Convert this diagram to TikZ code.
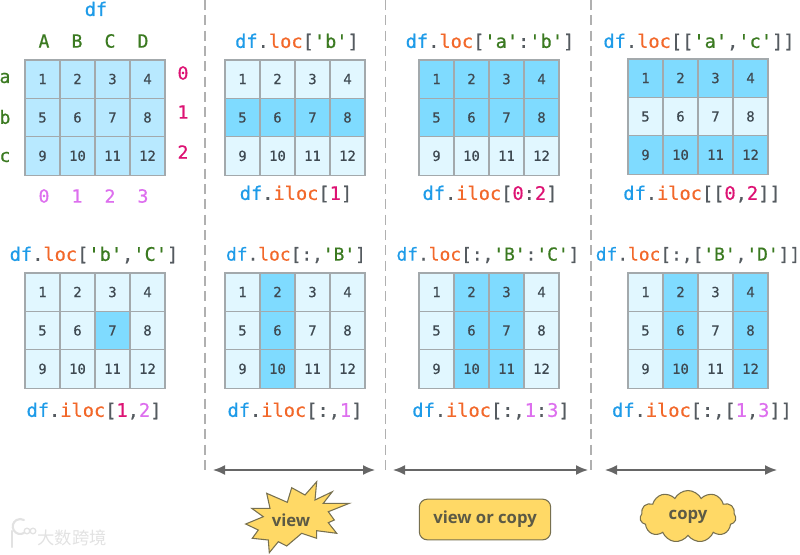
\documentclass[tikz,border=0pt]{standalone}
\usepackage{fontspec}
\usetikzlibrary{shapes.symbols,arrows.meta}
\newfontfamily\codefont[FakeBold=0.6]{DejaVu Sans Mono}
\newfontfamily\labelfont{Open Sans}
\newfontfamily\cjkfont{Noto Sans CJK SC}
\definecolor{cbase}{HTML}{B8E9FF}
\definecolor{clight}{HTML}{E1F7FF}
\definecolor{chigh}{HTML}{7FDBFF}
\definecolor{cline}{HTML}{A3A9AC}
\definecolor{cdf}{HTML}{1E9BE8}
\definecolor{cloc}{HTML}{F2682A}
\definecolor{cstr}{HTML}{3B7A21}
\definecolor{crow}{HTML}{DD1273}
\definecolor{ccol}{HTML}{DD6FEE}
\definecolor{cgray}{HTML}{555B60}
\definecolor{cnum}{HTML}{3F4A52}
\definecolor{cgold}{HTML}{FFD966}
\definecolor{cgoldline}{HTML}{77704F}
\definecolor{cgoldtext}{HTML}{5C5A45}
\definecolor{cdash}{HTML}{B0B0B0}
\definecolor{carrow}{HTML}{666666}
\definecolor{cwm}{HTML}{E2E2E2}
\newcommand{\Df}{{\color{cdf}df}}
\newcommand{\Lc}[1]{{\color{cloc}#1}}
\newcommand{\St}[1]{{\color{cstr}#1}}
\newcommand{\Rw}[1]{{\color{crow}#1}}
\newcommand{\Cl}[1]{{\color{ccol}#1}}
\tikzset{
  cellbox/.style={draw=cline,line width=1pt,inner sep=0pt,minimum width=26.2pt,minimum height=28.8pt,
    text=cnum,text height=7.3pt,text depth=0pt,font=\codefont\fontsize{10.4}{10.4}\selectfont},
  codelabel/.style={inner sep=0pt,text=cgray,yshift=-0.75pt,font=\codefont\fontsize{14}{14}\selectfont},
  tightlabel/.style={codelabel,font=\codefont\fontsize{13.4}{14}\selectfont},
  axislabel/.style={inner sep=0pt,font=\codefont\fontsize{13.6}{13.6}\selectfont},
  dashline/.style={draw=cdash,line width=1pt,dash pattern=on 7.5pt off 4pt},
  widearrow/.style={draw=carrow,line width=1.2pt,{Latex[length=9pt,width=7.5pt]}-{Latex[length=9pt,width=7.5pt]}},
  tagtext/.style={text=cgoldtext,font=\labelfont\bfseries\fontsize{12.5}{13}\selectfont},
  taggold/.style={fill=cgold,draw=cgoldline,line width=.8pt},
}
\makeatletter
\newcommand{\tbl}[5]{%
  \foreach \r in {0,1,2}{\foreach \c in {0,1,2,3}{%
    \pgfmathtruncatemacro{\n}{\r*4+\c+1}%
    \edef\cellcheck{\noexpand\in@{,\n,}{,#5,}}\cellcheck
    \ifin@\def\cellfill{chigh}\else\def\cellfill{#4}\fi
    \node[cellbox,fill=\cellfill] (#1-\n) at ({#2+17.5+35*\c},{#3+19.2+38.4*\r}) {\n};
  }}}
\makeatother
\begin{document}
\begin{tikzpicture}[x=0.75pt,y=-0.75pt]
\useasboundingbox (0,0) rectangle (800,554);
% grids
\tbl{ga}{25}{60}{cbase}{0}
\tbl{gb}{225}{60}{clight}{5,6,7,8}
\tbl{gc}{419}{60}{clight}{1,2,3,4,5,6,7,8}
\tbl{gd}{628}{59}{clight}{1,2,3,4,9,10,11,12}
\tbl{ge}{25}{273}{clight}{7}
\tbl{gf}{225}{273}{clight}{2,6,10}
\tbl{gg}{419}{273}{clight}{2,3,6,7,10,11}
\tbl{gh}{628}{273}{clight}{2,4,6,8,10,12}
% axis labels of the first table
\node[codelabel] (title) at (96,8) {\Df};
\foreach \t/\x in {A/44,B/77,C/110,D/143}
  \node[axislabel,text=cstr] (top\t) at (\x,41) {\t};
\foreach \t/\x in {0/44,1/77,2/110,3/143}
  \node[axislabel,text=ccol] (bot\t) at (\x,196) {\t};
\foreach \t/\y in {a/78,b/117,c/157}
  \node[axislabel,text=cstr] (left\t) at (5,\y) {\t};
\foreach \t/\y in {0/73,1/112,2/152}
  \node[axislabel,text=crow] (right\t) at (183,\y) {\t};
% code labels
\node[codelabel] (t1) at (297,41) {\Df.\Lc{loc}[\St{'b'}]};
\node[codelabel] (t2) at (490,41) {\Df.\Lc{loc}[\St{'a'}:\St{'b'}]};
\node[codelabel] (t3) at (699,41) {\Df.\Lc{loc}[[\St{'a'},\St{'c'}]]};
\node[codelabel] (u1) at (296,193) {\Df.\Lc{iloc}[\Rw{1}]};
\node[codelabel] (u2) at (490,193) {\Df.\Lc{iloc}[\Rw{0}:\Rw{2}]};
\node[codelabel] (u3) at (702,193) {\Df.\Lc{iloc}[[\Rw{0},\Rw{2}]]};
\node[codelabel] (v0) at (94,254) {\Df.\Lc{loc}[\St{'b'},\St{'C'}]};
\node[tightlabel] (v1) at (296,254) {\Df.\Lc{loc}[:,\St{'B'}]};
\node[tightlabel] (v2) at (488,254) {\Df.\Lc{loc}[:,\St{'B'}:\St{'C'}]};
\node[tightlabel] (v3) at (698,254) {\Df.\Lc{loc}[:,[\St{'B'},\St{'D'}]]};
\node[codelabel] (w0) at (94,410) {\Df.\Lc{iloc}[\Rw{1},\Cl{2}]};
\node[codelabel] (w1) at (295,410) {\Df.\Lc{iloc}[:,\Cl{1}]};
\node[codelabel] (w2) at (491,410) {\Df.\Lc{iloc}[:,\Cl{1}:\Cl{3}]};
\node[codelabel] (w3) at (702,410) {\Df.\Lc{iloc}[:,[\Cl{1},\Cl{3}]]};
% separators
\foreach \i/\x in {1/205,2/385.5,3/591}{
  \coordinate (sep\i a) at (\x,0);
  \coordinate (sep\i b) at (\x,471);
  \draw[dashline] (sep\i a) -- (sep\i b);
}
% arrows
\coordinate (ar1a) at (213,470); \coordinate (ar1b) at (375,470);
\coordinate (ar2a) at (393,470); \coordinate (ar2b) at (588,470);
\coordinate (ar3a) at (605,470); \coordinate (ar3b) at (777,470);
\draw[widearrow] (ar1a) -- (ar1b);
\draw[widearrow] (ar2a) -- (ar2b);
\draw[widearrow] (ar3a) -- (ar3b);
% star
\draw[taggold,line join=miter] (316.7,481.7) -- (315,500) -- (332.3,491.7) -- (323.3,503.3) -- (349.3,503.3) -- (328.3,511.7) -- (334.3,520) -- (328.3,522.7) -- (336.7,533.3) -- (316.7,530.7) -- (316.7,538.3) -- (301.7,533.3) -- (286.7,546) -- (278.3,541.7) -- (269.3,552.7) -- (268.3,540) -- (252.3,538.3) -- (258.3,530) -- (245.7,524) -- (263.3,516.7) -- (251.7,508.3) -- (270,508.3) -- (266.7,493.3) -- (287.3,502.3) -- (291.7,487.7) -- (305,495) -- cycle;
\node[tagtext] (view) at (291,520) {view};
% rounded box
\node[taggold,tagtext,rounded corners=6pt,minimum width=98.5pt,minimum height=30.5pt,inner sep=0pt] (voc) at (485,519.5) {view or copy};
% cloud
\node[cloud,cloud puffs=11,cloud puff arc=125,aspect=2,taggold,tagtext,minimum width=72pt,minimum height=39pt,inner sep=0pt] (copy) at (688,516.5) {copy};
% watermark
\node[inner sep=0pt,text=cwm,font=\cjkfont\fontsize{13}{13}\selectfont] (wm) at (72,538) {大数跨境};
\draw[cwm,line width=1.6pt,line cap=round] (12,531) -- (12,547);
\draw[cwm,line width=1.6pt,line cap=round] (24,533) arc (60:300:7.5);
\draw[cwm,line width=1pt] (27,531) circle (2.8);
\draw[cwm,line width=1pt] (33,531) circle (2.8);
\end{tikzpicture}
\end{document}
